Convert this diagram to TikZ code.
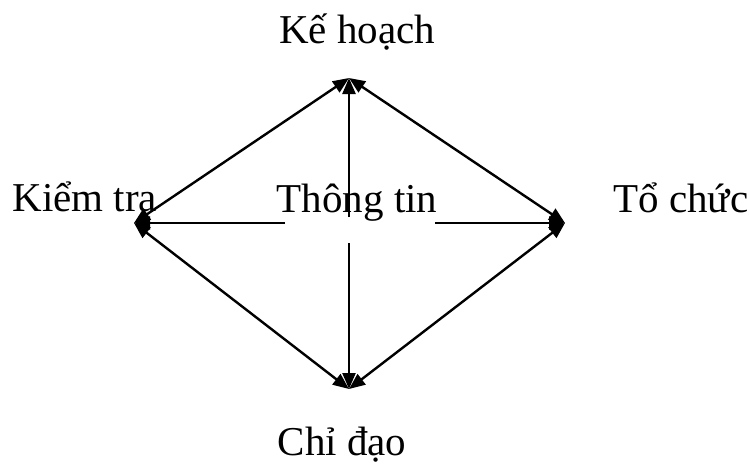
\documentclass[tikz,border=0pt]{standalone}
\usepackage{fontspec}
\setmainfont{Liberation Serif}
\usetikzlibrary{arrows.meta}
\begin{document}
\begin{tikzpicture}[x=0.5pt, y=-0.5pt, lbl/.style={inner sep=0pt, font=\fontsize{20.5}{24}\selectfont},link/.style={line width=1.2pt, -{Triangle[length=8pt, width=6.5pt]}},edge/.style={line width=1.2pt, {Triangle[length=8pt, width=6.5pt]}-{Triangle[length=8pt, width=6.5pt]}}]
\useasboundingbox (0,0) rectangle (750,468);
\coordinate (vtop) at (349,78);
\coordinate (vleft) at (134,223);
\coordinate (vright) at (565,223);
\coordinate (vbottom) at (349,389);
\coordinate (ttn) at (349,217);
\coordinate (tts) at (349,243);
\coordinate (ttw) at (285,223);
\coordinate (tte) at (435,223);
\node[lbl, anchor=base] (kehoach) at (357,43) {Kế hoạch};
\node[lbl, anchor=base west] (kiemtra) at (12,211) {Kiểm tra};
\node[lbl, anchor=base west] (tochuc) at (613,212) {Tổ chức};
\node[lbl, anchor=base] (chidao) at (342,455) {Chỉ đạo};
\node[lbl, anchor=base] (thongtin) at (357,212) {Thông tin};
\draw[edge] (vleft) -- (vtop);
\draw[edge] (vtop) -- (vright);
\draw[edge] (vright) -- (vbottom);
\draw[edge] (vbottom) -- (vleft);
\draw[link] (ttn) -- (vtop);
\draw[link] (tts) -- (vbottom);
\draw[link] (ttw) -- (vleft);
\draw[link] (tte) -- (vright);
\end{tikzpicture}
\end{document}
